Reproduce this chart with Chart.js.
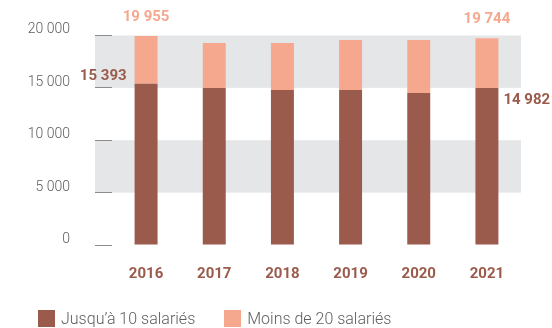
<!DOCTYPE html>
<html lang="fr">
<head>
<meta charset="utf-8">
<title>Entreprises par taille</title>
<script src="https://cdn.jsdelivr.net/npm/chart.js@4/dist/chart.umd.min.js"></script>
<style>
  html, body { margin: 0; padding: 0; background: #fff; }
  .wrap { position: relative; width: 552px; height: 328px; }
  #chart { display: block; }
  .legend {
    position: absolute; left: 38px; top: 309px;
    display: flex; align-items: center;
    font-family: Roboto, "Open Sans", sans-serif; font-weight: 300;
    font-size: 16px; color: #5e5e5e;
  }
  .legend-item { display: flex; align-items: center; margin-right: 29px; white-space: nowrap; }
  .legend-box { width: 17px; height: 17px; margin-right: 6px; }
</style>
</head>
<body>
<div class="wrap">
  <canvas id="chart" width="552" height="328"></canvas>
  <div class="legend" id="legend"></div>
</div>
<script>
(function(){
  const years = ['2016', '2017', '2018', '2019', '2020', '2021'];
  const upTo10 = [15393, 15000, 14800, 14800, 14510, 14982];
  const under20 = [19955, 19290, 19290, 19570, 19570, 19744];
  const yTicks = [0, 5000, 10000, 15000, 20000];
  const labelled = [0, 5];

  const seriesNames = ['Jusqu\u2019à 10 salariés', 'Moins de 20 salariés'];
  const colors = ['#9a5b4c', '#f6a88f'];
  const band = '#e5e6e8';

  function fmt(n){
    return String(n).replace(/\B(?=(\d{3})+(?!\d))/g, ' ');
  }

  // grey bands behind 5 000-10 000 and 15 000-20 000
  const bandsPlugin = {
    id: 'bands',
    beforeDraw(chart){
      const { ctx, chartArea, scales: { y } } = chart;
      const left = chartArea.left - 17;
      ctx.save();
      ctx.fillStyle = band;
      [[15000, 20000], [5000, 10000]].forEach(([lo, hi]) => {
        const top = y.getPixelForValue(hi);
        const bottom = y.getPixelForValue(lo);
        ctx.fillRect(left, top, chartArea.right - left, bottom - top);
      });
      ctx.restore();
    }
  };

  // value labels on the first and last year
  const valuesPlugin = {
    id: 'values',
    afterDatasetsDraw(chart){
      const { ctx } = chart;
      const low = chart.getDatasetMeta(0).data;
      const high = chart.getDatasetMeta(1).data;
      ctx.save();
      ctx.font = 'bold 15px Roboto, "Open Sans", sans-serif';
      ctx.textBaseline = 'middle';
      labelled.forEach(i => {
        const b0 = low[i], b1 = high[i];
        ctx.fillStyle = colors[1];
        ctx.textAlign = 'center';
        ctx.fillText(fmt(under20[i]), b1.x, b1.y - 19);

        ctx.fillStyle = colors[0];
        if (i === 0) {
          ctx.textAlign = 'right';
          ctx.fillText(fmt(upTo10[i]), b0.x - b0.width / 2 - 8, b0.y - 8);
        } else {
          ctx.textAlign = 'left';
          ctx.fillText(fmt(upTo10[i]), b0.x + b0.width / 2 + 5, b0.y + 12);
        }
      });
      ctx.restore();
    }
  };

  new Chart(document.getElementById('chart'), {
    type: 'bar',
    data: {
      labels: years,
      datasets: [
        {
          label: seriesNames[0],
          data: upTo10,
          backgroundColor: colors[0],
          grouped: false,
          barPercentage: 0.337,
          categoryPercentage: 1
        },
        {
          label: seriesNames[1],
          data: years.map((_, i) => [upTo10[i], under20[i]]),
          backgroundColor: colors[1],
          grouped: false,
          barPercentage: 0.337,
          categoryPercentage: 1
        }
      ]
    },
    options: {
      responsive: false,
      animation: false,
      layout: { padding: { top: 35.5, right: 31, left: 0, bottom: 0 } },
      plugins: {
        legend: { display: false },
        tooltip: { enabled: false }
      },
      scales: {
        x: {
          grid: { display: false, drawTicks: false },
          border: { display: false },
          ticks: {
            color: colors[0],
            padding: 20,
            font: { family: 'Roboto, "Open Sans", sans-serif', size: 15, weight: 'bold' }
          },
          afterFit(scale){ scale.height = 83; }
        },
        y: {
          min: 0,
          max: 20000,
          afterBuildTicks(scale){ scale.ticks = yTicks.map(v => ({ value: v })); },
          grid: { drawOnChartArea: false, drawTicks: true, tickLength: 17, color: '#8c8c8c', lineWidth: 1 },
          border: { display: false },
          ticks: {
            color: '#5e5e5e',
            padding: 25,
            font: { family: 'Roboto, "Open Sans", sans-serif', size: 14, weight: 300, lineHeight: 0.8 },
            // extra empty line lifts the label a little above its tick
            callback: v => [fmt(v), '']
          },
          afterFit(scale){
            scale.width = 112;
            scale.paddingTop = 0;
            scale.paddingBottom = 0;
          }
        }
      }
    },
    plugins: [bandsPlugin, valuesPlugin]
  });

  const legend = document.getElementById('legend');
  seriesNames.forEach((name, i) => {
    const item = document.createElement('div');
    item.className = 'legend-item';
    item.innerHTML = `<span class="legend-box" style="background:${colors[i]}"></span><span>${name}</span>`;
    legend.appendChild(item);
  });
})();
</script>
</body>
</html>
